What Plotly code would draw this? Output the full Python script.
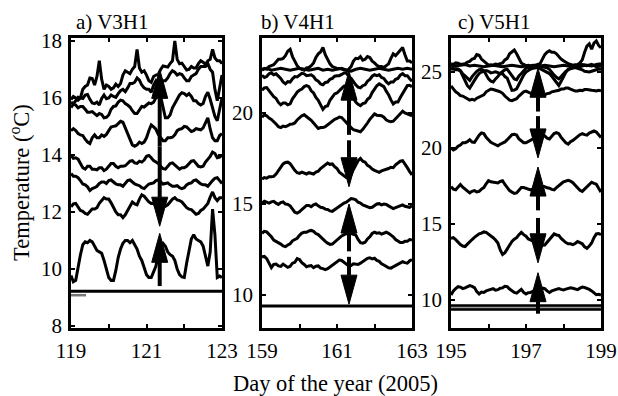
import plotly.graph_objects as go
import numpy as np

# ---------------- data (°C, sampled every 1.5 h over four days) ----------------
# Panel a) V3H1, days 119-123
a1 = [15.94, 16.05, 16.0, 15.92, 16.0, 16.3, 16.4, 16.45, 16.7, 16.68, 16.45, 16.75, 17.3, 16.65, 16.3, 16.45,
      16.4, 16.3, 16.35, 16.48, 16.4, 16.5, 16.8, 16.95, 16.9, 16.85, 17.0, 17.1, 17.7, 17.05, 16.9, 16.95,
      16.8, 16.6, 16.55, 16.75, 16.8, 16.82, 17.0, 17.12, 17.1, 17.08, 17.2, 17.3, 18.0, 17.35, 17.2, 17.22,
      17.1, 16.98, 17.0, 17.1, 17.05, 17.05, 17.2, 17.3, 17.25, 17.18, 17.3, 17.35, 17.7, 17.4, 17.3, 17.3, 17.2]
a2 = [15.85, 15.8, 15.9, 16.02, 16.0, 15.98, 16.1, 16.12, 15.95, 15.82, 15.8, 15.85, 15.75, 15.98, 16.1, 15.97,
      16.0, 16.1, 16.05, 16.02, 16.15, 16.25, 16.3, 16.22, 16.35, 16.5, 16.5, 16.55, 16.7, 16.62, 16.45, 16.35,
      16.3, 16.3, 16.2, 16.45, 16.6, 16.48, 16.5, 16.6, 16.6, 16.7, 16.85, 16.95, 16.9, 16.8, 16.85, 16.82,
      16.7, 16.6, 16.6, 16.75, 16.8, 16.85, 17.0, 17.1, 17.1, 17.1, 17.2, 17.0, 16.9, 16.3, 15.9, 16.4, 16.8]
a3 = [15.66, 15.78, 15.75, 15.65, 15.7, 15.7, 15.6, 15.5, 15.5, 15.52, 15.45, 15.38, 15.45, 15.42, 15.3, 15.32,
      15.4, 15.6, 15.7, 15.72, 15.85, 15.92, 15.9, 15.8, 15.75, 15.68, 15.55, 15.45, 15.45, 15.6, 15.7, 15.68,
      15.75, 15.82, 15.8, 15.85, 16.0, 16.08, 16.05, 15.7, 15.3, 15.3, 15.4, 15.65, 15.8, 15.9, 16.1, 16.18,
      16.15, 16.08, 16.15, 16.05, 15.9, 15.9, 15.8, 15.75, 15.8, 16.05, 16.2, 15.95, 15.6, 15.35, 15.2, 15.55, 16.0]
a4 = [14.85, 14.92, 14.85, 14.75, 14.7, 14.68, 14.55, 14.45, 14.4, 14.6, 14.7, 14.6, 14.6, 14.7, 14.65, 14.72,
      14.85, 14.98, 15.0, 15.02, 15.1, 15.18, 15.15, 14.95, 14.7, 14.5, 14.35, 14.3, 14.35, 14.45, 14.4, 14.45,
      14.6, 14.85, 15.05, 14.98, 14.9, 14.72, 14.6, 14.5, 14.5, 14.6, 14.6, 14.62, 14.7, 14.85, 14.9, 14.92,
      15.0, 14.98, 14.9, 14.82, 14.85, 14.92, 14.9, 14.88, 14.95, 15.15, 15.3, 14.9, 14.6, 14.5, 14.5, 14.68, 14.75]
a5 = [13.99, 13.88, 13.9, 13.85, 13.7, 13.55, 13.5, 13.6, 13.6, 13.5, 13.5, 13.48, 13.55, 13.55, 13.45, 13.5,
      13.6, 13.7, 13.7, 13.6, 13.55, 13.6, 13.6, 13.62, 13.7, 13.78, 13.8, 13.72, 13.7, 13.78, 13.75, 13.82,
      13.95, 13.98, 13.9, 13.8, 13.75, 13.7, 13.6, 13.52, 13.5, 13.62, 13.7, 13.72, 13.65, 13.55, 13.5, 13.55,
      13.55, 13.6, 13.7, 13.78, 13.8, 13.7, 13.6, 13.58, 13.6, 13.75, 13.85, 13.95, 14.1, 14.05, 13.9, 13.92, 14.0]
a6 = [13.35, 13.25, 13.25, 13.2, 13.1, 12.98, 12.95, 12.88, 12.75, 12.82, 12.85, 12.9, 13.0, 13.05, 13.05, 13.0,
      13.1, 13.12, 13.05, 12.98, 12.95, 12.95, 12.9, 13.0, 13.1, 13.12, 13.05, 12.98, 12.95, 12.92, 12.85, 12.82,
      12.9, 12.98, 13.0, 13.02, 13.1, 13.12, 13.05, 12.98, 13.0, 13.02, 12.95, 12.9, 12.9, 12.92, 12.85, 12.82,
      12.85, 12.95, 13.0, 13.02, 13.1, 13.12, 13.05, 12.98, 12.95, 12.95, 12.9, 13.02, 13.1, 13.18, 13.2, 13.1, 13.0]
a7 = [12.18, 12.28, 12.3, 12.15, 12.05, 12.02, 11.95, 11.92, 12.0, 12.1, 12.1, 12.15, 12.3, 12.42, 12.5, 12.45,
      12.45, 12.32, 12.15, 12.0, 11.9, 11.9, 11.8, 11.9, 12.05, 12.22, 12.35, 12.28, 12.25, 12.45, 12.6, 12.55,
      12.45, 12.35, 12.3, 12.3, 12.2, 12.15, 12.2, 12.25, 12.2, 12.25, 12.35, 12.45, 12.5, 12.42, 12.4, 12.35,
      12.25, 12.15, 12.1, 12.08, 12.0, 11.92, 11.95, 12.05, 12.1, 12.2, 12.3, 12.52, 12.7, 12.5, 12.4, 12.5, 12.5]
a8 = [9.77, 9.55, 9.6, 10.1, 10.5, 10.85, 10.95, 10.92, 11.0, 10.95, 10.8, 10.65, 10.6, 10.55, 10.3, 9.95,
      9.7, 9.6, 9.6, 9.95, 10.4, 10.7, 10.9, 11.0, 11.0, 10.92, 11.0, 10.85, 10.7, 10.45, 10.3, 10.05,
      9.8, 9.7, 9.7, 9.9, 10.1, 10.5, 10.8, 10.9, 10.8, 10.6, 10.5, 10.45, 10.3, 10.0, 9.8, 9.72,
      9.7, 10.2, 10.7, 11.05, 11.2, 11.05, 11.0, 10.95, 10.8, 10.4, 10.1, 10.6, 12.1, 11.2, 9.7, 9.75, 9.7]
a9 = [9.22, 9.22]
a_short = [9.08, 9.08]          # short grey trace, days 119.0-119.4
a_short_days = [119.0, 119.4]
lines_a = [a1, a2, a3, a4, a5, a6, a7, a8, a9]

# Panel b) V4H1, days 159-163
b1 = [22.35, 22.45, 22.4, 22.55, 22.6, 22.65, 22.8, 22.95, 22.95, 23.0, 23.15, 23.4, 23.5, 23.1, 22.85, 22.6,
      22.45, 22.42, 22.35, 22.48, 22.5, 22.6, 22.75, 23.05, 23.25, 23.35, 23.6, 23.2, 22.95, 22.7, 22.55, 22.5,
      22.45, 22.45, 22.4, 22.38, 22.35, 22.4, 22.55, 22.85, 23.0, 22.98, 23.1, 22.9, 22.95, 23.1, 23.05, 22.85,
      22.75, 22.62, 22.55, 22.55, 22.5, 22.6, 22.7, 23.0, 23.25, 23.15, 23.3, 23.45, 23.6, 23.2, 22.85, 22.85, 22.75]
b2 = [22.4, 22.45, 22.35, 22.4, 22.45, 22.4, 22.35, 22.4, 22.45, 22.4, 22.35, 22.4, 22.45, 22.35, 22.4, 22.35,
      22.4, 22.45, 22.35, 22.3, 22.4, 22.45, 22.4, 22.35, 22.4, 22.45, 22.4, 22.35, 22.4, 22.45, 22.4, 22.45, 22.4]
b3 = [22.07, 21.95, 22.0, 22.15, 22.2, 22.1, 22.15, 22.05, 21.9, 21.7, 21.6, 21.72, 21.7, 21.88, 22.0, 21.98,
      22.1, 22.18, 22.15, 22.05, 22.07, 22.1, 22.0, 21.82, 21.75, 21.6, 21.55, 21.68, 21.7, 21.85, 21.9, 22.02,
      22.05, 22.05, 22.12, 22.2, 22.2, 22.0, 21.9, 21.7, 21.55, 21.42, 21.38, 21.5, 21.55, 21.75, 21.85, 22.02,
      22.1, 22.05, 22.1, 21.95, 21.9, 21.72, 21.6, 21.7, 21.7, 21.85, 21.9, 22.08, 22.16, 22.05, 22.05, 21.88, 21.75]
b4 = [21.25, 21.38, 21.4, 21.22, 21.1, 20.9, 20.8, 20.58, 20.45, 20.55, 20.55, 20.45, 20.5, 20.78, 20.95, 21.15,
      21.25, 21.32, 21.45, 21.5, 21.45, 21.22, 21.1, 20.85, 20.7, 20.42, 20.2, 20.35, 20.4, 20.7, 20.9, 21.05,
      21.1, 21.25, 21.35, 21.48, 21.5, 21.22, 21.0, 20.75, 20.6, 20.48, 20.4, 20.52, 20.55, 20.75, 20.85, 21.12,
      21.3, 21.5, 21.6, 21.5, 21.45, 21.2, 21.0, 20.72, 20.5, 20.6, 20.6, 20.85, 21.05, 21.32, 21.5, 21.52, 21.45]
b5 = [19.77, 19.9, 19.85, 19.72, 19.65, 19.55, 19.4, 19.25, 19.2, 19.28, 19.25, 19.3, 19.38, 19.4, 19.45, 19.62,
      19.75, 19.85, 19.9, 19.82, 19.7, 19.6, 19.45, 19.25, 19.15, 19.2, 19.2, 19.25, 19.35, 19.48, 19.55, 19.65,
      19.7, 19.78, 19.75, 19.6, 19.5, 19.32, 19.2, 19.08, 19.04, 18.98, 18.97, 19.1, 19.25, 19.45, 19.65, 19.82,
      19.95, 19.88, 19.85, 19.85, 19.77, 19.62, 19.55, 19.52, 19.55, 19.7, 19.8, 19.98, 20.1, 20.0, 19.95, 19.92, 19.85]
b6 = [16.37, 16.45, 16.42, 16.5, 16.5, 16.52, 16.65, 16.85, 17.0, 17.2, 17.28, 17.3, 17.22, 17.0, 16.85, 16.72,
      16.68, 16.75, 16.7, 16.65, 16.72, 16.7, 16.65, 16.75, 16.8, 16.95, 17.05, 17.2, 17.25, 17.18, 17.2, 17.05,
      16.95, 16.75, 16.65, 16.5, 16.45, 16.5, 16.6, 16.9, 17.15, 17.38, 17.5, 17.35, 17.3, 17.12, 17.05, 16.92,
      16.85, 16.8, 16.74, 16.82, 16.85, 16.88, 16.95, 17.02, 17.0, 17.15, 17.25, 17.35, 17.38, 17.15, 17.0, 16.78, 16.6]
b7 = [15.05, 15.15, 15.1, 15.05, 15.12, 15.15, 15.05, 14.98, 15.08, 15.12, 15.0, 14.98, 14.9, 14.7, 14.55, 14.5,
      14.57, 14.7, 14.8, 14.92, 14.92, 14.85, 14.95, 15.0, 14.9, 14.82, 14.8, 14.72, 14.7, 14.62, 14.6, 14.7,
      14.75, 14.88, 14.95, 15.05, 15.1, 15.22, 15.3, 15.28, 15.23, 15.1, 15.05, 14.95, 14.9, 14.88, 14.8, 14.82,
      14.9, 15.0, 15.02, 14.95, 15.0, 14.98, 14.9, 14.8, 14.75, 14.8, 14.85, 14.92, 14.95, 14.88, 14.85, 14.82, 14.9]
b8 = [13.39, 13.5, 13.47, 13.35, 13.2, 13.02, 12.95, 12.9, 12.8, 12.7, 12.66, 12.75, 12.82, 12.98, 13.05, 13.12,
      13.28, 13.4, 13.45, 13.45, 13.52, 13.55, 13.5, 13.38, 13.32, 13.18, 13.1, 12.95, 12.85, 12.78, 12.8, 12.92,
      13.0, 13.15, 13.25, 13.32, 13.35, 13.42, 13.38, 13.32, 13.3, 13.05, 12.88, 12.85, 12.9, 13.08, 13.2, 13.38,
      13.45, 13.4, 13.42, 13.35, 13.38, 13.45, 13.39, 13.3, 13.2, 13.05, 12.95, 12.88, 12.88, 12.95, 12.95, 13.05, 13.02]
b9 = [12.1, 12.12, 12.0, 11.72, 11.5, 11.68, 11.7, 11.6, 11.58, 11.7, 11.62, 11.52, 11.58, 11.75, 11.8, 12.0,
      11.95, 11.78, 11.68, 11.55, 11.6, 11.62, 11.5, 11.58, 11.6, 11.48, 11.45, 11.4, 11.45, 11.55, 11.6, 11.75,
      11.8, 11.92, 11.9, 11.78, 11.7, 11.6, 11.62, 11.72, 11.7, 11.68, 11.75, 11.85, 11.9, 12.02, 12.05, 11.98,
      12.02, 11.9, 11.85, 11.72, 11.65, 11.55, 11.5, 11.48, 11.55, 11.65, 11.7, 11.8, 11.83, 11.78, 11.75, 11.88, 11.95]
b10 = [9.4, 9.4]
lines_b = [b1, b2, b3, b4, b5, b6, b7, b8, b9, b10]

# Panel c) V5H1, days 195-199
c1 = [25.45, 25.4, 25.45, 25.5, 25.4, 25.45, 25.4, 25.35, 25.4, 25.45, 25.4, 25.35, 25.4, 25.45, 25.4, 25.35,
      25.4, 25.4, 25.35, 25.4, 25.45, 25.4, 25.35, 25.4, 25.45, 25.4, 25.35, 25.4, 25.5, 25.45, 25.4, 25.5, 25.55]
c2 = [25.55, 25.5, 25.6, 25.58, 25.5, 25.52, 25.55, 25.65, 25.7, 25.85, 25.9, 26.15, 26.1, 25.85, 25.7, 25.55,
      25.45, 25.48, 25.45, 25.52, 25.5, 25.55, 25.6, 25.8, 25.9, 26.2, 26.35, 26.45, 26.2, 25.85, 25.6, 25.5,
      25.42, 25.45, 25.4, 25.45, 25.45, 25.5, 25.55, 25.85, 26.15, 26.3, 26.4, 26.3, 26.3, 26.2, 26.0, 25.85,
      25.75, 25.62, 25.55, 25.5, 25.45, 25.48, 25.5, 25.6, 25.8, 26.3, 26.7, 26.85, 26.5, 26.9, 27.05, 26.75, 26.6]
c3 = [25.29, 25.2, 25.22, 25.2, 25.1, 24.88, 24.75, 24.62, 24.45, 24.7, 24.9, 25.05, 25.15, 25.18, 25.1, 24.85,
      24.55, 24.4, 24.35, 24.55, 24.7, 24.92, 25.05, 25.15, 25.18, 24.95, 24.7, 24.55, 24.5, 24.75, 24.9, 25.1,
      25.25, 25.32, 25.3, 25.3, 25.35, 25.4, 25.38, 25.35, 25.29, 25.28, 25.18, 24.95, 24.8, 24.65, 24.55, 24.7,
      24.9, 25.05, 25.15, 25.25, 25.3, 25.36, 25.38, 25.35, 25.4, 25.45, 25.42, 25.48, 25.5, 25.42, 25.35, 25.38, 25.4]
c4 = [25.18, 25.22, 25.15, 25.15, 25.08, 24.75, 24.4, 24.1, 23.95, 24.25, 24.45, 24.7, 24.9, 25.0, 25.05, 25.1,
      25.05, 24.95, 24.98, 25.02, 24.96, 24.88, 24.9, 24.7, 24.6, 24.15, 23.8, 23.82, 23.9, 24.2, 24.55, 24.8,
      25.0, 25.12, 25.2, 25.25, 25.28, 25.3, 25.22, 25.15, 25.05, 25.0, 24.9, 24.72, 24.5, 24.28, 24.12, 24.4,
      24.7, 24.98, 25.18, 25.22, 25.25, 25.3, 25.25, 25.22, 25.15, 25.05, 25.0, 25.0, 25.05, 25.12, 25.15, 25.2, 25.18]
c5 = [24.09, 23.85, 23.7, 23.6, 23.45, 23.42, 23.33, 23.2, 23.15, 23.2, 23.15, 23.28, 23.35, 23.38, 23.5, 23.7,
      23.8, 23.88, 23.85, 23.78, 23.75, 23.7, 23.6, 23.42, 23.3, 23.15, 23.12, 23.2, 23.25, 23.42, 23.55, 23.7,
      23.75, 23.65, 23.6, 23.58, 23.5, 23.48, 23.42, 23.48, 23.5, 23.58, 23.6, 23.7, 23.72, 23.78, 23.8, 23.88,
      23.88, 23.95, 23.95, 23.88, 23.82, 23.75, 23.75, 23.8, 23.78, 23.85, 23.85, 23.8, 23.8, 23.78, 23.75, 23.8, 23.76]
c6 = [20.02, 19.88, 19.95, 20.12, 20.2, 20.35, 20.35, 20.42, 20.55, 20.4, 20.38, 20.62, 20.85, 21.0, 20.95, 20.7,
      20.5, 20.38, 20.3, 20.2, 20.15, 20.25, 20.3, 20.4, 20.55, 20.75, 20.88, 20.9, 20.85, 20.6, 20.45, 20.35,
      20.35, 20.45, 20.5, 20.6, 20.65, 20.72, 20.75, 20.82, 20.8, 20.65, 20.6, 20.8, 20.95, 21.02, 20.95, 20.7,
      20.5, 20.35, 20.26, 20.42, 20.5, 20.65, 20.75, 20.88, 20.95, 20.88, 20.85, 20.98, 21.05, 21.12, 21.05, 20.85, 20.7]
c7 = [17.46, 17.3, 17.25, 17.45, 17.6, 17.42, 17.3, 17.12, 17.05, 17.15, 17.2, 17.12, 17.15, 17.3, 17.4, 17.65,
      17.85, 17.78, 17.75, 17.68, 17.7, 17.8, 17.85, 17.6, 17.4, 17.2, 17.1, 17.02, 17.05, 17.25, 17.4, 17.4,
      17.35, 17.25, 17.25, 17.3, 17.3, 17.38, 17.4, 17.48, 17.46, 17.38, 17.36, 17.28, 17.25, 17.4, 17.5, 17.65,
      17.77, 17.85, 17.88, 17.82, 17.72, 17.55, 17.4, 17.22, 17.15, 17.3, 17.4, 17.6, 17.75, 17.68, 17.62, 17.35, 17.1]
c8 = [14.06, 14.1, 13.97, 13.8, 13.65, 13.55, 13.52, 13.68, 13.8, 13.98, 14.12, 14.25, 14.35, 14.4, 14.48, 14.45,
      14.35, 14.25, 14.1, 13.95, 13.75, 13.3, 13.0, 13.12, 13.35, 13.65, 13.85, 14.0, 14.1, 14.3, 14.45, 14.3,
      14.2, 14.02, 13.95, 13.9, 13.8, 13.72, 13.7, 13.6, 13.62, 13.8, 14.0, 14.22, 14.35, 14.28, 14.25, 14.05,
      13.9, 13.78, 13.7, 13.7, 13.65, 13.72, 13.85, 13.8, 13.7, 13.5, 13.4, 13.55, 13.75, 14.1, 14.35, 14.38, 14.3]
c9 = [10.33, 10.6, 10.75, 10.88, 10.85, 10.75, 10.8, 10.9, 10.95, 10.9, 10.82, 10.55, 10.4, 10.52, 10.5, 10.6,
      10.65, 10.72, 10.75, 10.65, 10.68, 10.78, 10.8, 10.9, 10.88, 10.72, 10.6, 10.5, 10.45, 10.6, 10.7, 10.5,
      10.4, 10.48, 10.5, 10.58, 10.6, 10.68, 10.7, 10.78, 10.75, 10.6, 10.5, 10.6, 10.65, 10.72, 10.75, 10.7,
      10.67, 10.72, 10.75, 10.8, 10.77, 10.7, 10.68, 10.78, 10.85, 10.82, 10.78, 10.7, 10.6, 10.45, 10.35, 10.38, 10.33]
c10 = [9.63, 9.63]
c11 = [9.40, 9.40]
c_grey = [9.51, 9.51]
lines_c = [c1, c2, c3, c4, c5, c6, c7, c8, c9, c10, c11]

# Arrows: (day, start temperature, tip temperature)
arrows_a = [(121.35, 14.3, 17.0), (121.35, 14.3, 11.5), (121.35, 9.4, 11.25)]
arrows_b = [(161.32, 18.8, 22.3), (161.32, 18.5, 15.95), (161.32, 12.4, 15.0), (161.32, 12.1, 9.5)]
arrows_c = [(197.32, 22.4, 25.25), (197.32, 22.1, 19.35), (197.32, 15.9, 18.75),
            (197.32, 15.4, 12.45), (197.32, 9.1, 11.8)]

titles = ["a) V3H1", "b) V4H1", "c) V5H1"]
x_ranges = [[119, 123], [159, 163], [195, 199]]
y_ranges = [[7.93, 18.1], [8.19, 24.12], [8.16, 27.24]]
y_ticks = [[8, 10, 12, 14, 16, 18], [10, 15, 20], [10, 15, 20, 25]]

# ---------------- layout geometry ----------------
W, H = 618, 396
x_dom_px = [(71, 222), (262, 412), (451, 601)]
y_dom_px = (38, 328)
FONT = "Liberation Serif, Times New Roman, serif"


def grid(x0, n):
    return np.linspace(x0, x0 + 4, n)


fig = go.Figure()

panels = [lines_a, lines_b, lines_c]
arrow_sets = [arrows_a, arrows_b, arrows_c]
for i, lines in enumerate(panels):
    xa = "x" if i == 0 else f"x{i+1}"
    ya = "y" if i == 0 else f"y{i+1}"
    x0 = x_ranges[i][0]
    for vals in lines:
        fig.add_trace(go.Scatter(x=grid(x0, len(vals)), y=vals, mode="lines", xaxis=xa, yaxis=ya,
                                 line=dict(color="black", width=3), hoverinfo="skip",
                                 showlegend=False))
    if i == 0:
        fig.add_trace(go.Scatter(x=a_short_days, y=a_short, mode="lines", xaxis=xa, yaxis=ya,
                                 line=dict(color="#777", width=2.5), showlegend=False))
    if i == 2:
        fig.add_trace(go.Scatter(x=grid(x0, len(c_grey)), y=c_grey, mode="lines", xaxis=xa, yaxis=ya,
                                 line=dict(color="#999", width=1.5), showlegend=False))
    # arrows
    px_per_x = (x_dom_px[i][1] - x_dom_px[i][0]) / (x_ranges[i][1] - x_ranges[i][0])
    px_per_y = (y_dom_px[1] - y_dom_px[0]) / (y_ranges[i][1] - y_ranges[i][0])
    head_len = 29 / px_per_y
    half_w = 8 / px_per_x
    for (ax, y0, y1) in arrow_sets[i]:
        sgn = 1 if y1 > y0 else -1
        base = y1 - sgn * head_len
        fig.add_trace(go.Scatter(x=[ax, ax], y=[y0, base], mode="lines", xaxis=xa, yaxis=ya,
                                 line=dict(color="black", width=4), showlegend=False))
        fig.add_trace(go.Scatter(x=[ax - half_w, ax + half_w, ax, ax - half_w],
                                 y=[base, base, y1, base], mode="lines", fill="toself",
                                 fillcolor="black", line=dict(color="black", width=1),
                                 xaxis=xa, yaxis=ya, showlegend=False))

layout = dict(template="none", width=W, height=H,
              margin=dict(l=0, r=0, t=0, b=0, autoexpand=False),
              paper_bgcolor="white", plot_bgcolor="white", showlegend=False,
              font=dict(family=FONT, size=21, color="black"))

for i in range(3):
    xk = "xaxis" if i == 0 else f"xaxis{i+1}"
    yk = "yaxis" if i == 0 else f"yaxis{i+1}"
    ya = "y" if i == 0 else f"y{i+1}"
    xa = "x" if i == 0 else f"x{i+1}"
    x0 = x_ranges[i][0]
    layout[xk] = dict(domain=[x_dom_px[i][0] / W, x_dom_px[i][1] / W], range=x_ranges[i],
                      anchor=ya, tickvals=[x0, x0 + 2, x0 + 4],
                      ticks="inside", ticklen=4, tickwidth=2, tickcolor="black",
                      minor=dict(tickvals=[x0 + 1, x0 + 3], ticks="inside", ticklen=4,
                                 tickwidth=2, tickcolor="black", showgrid=False),
                      ticklabelstandoff=2,
                      showline=True, linewidth=2.5, linecolor="black", mirror="ticks",
                      showgrid=False, zeroline=False, fixedrange=True, automargin=False,
                      tickfont=dict(family=FONT, size=21, color="black"))
    layout[yk] = dict(domain=[1 - y_dom_px[1] / H, 1 - y_dom_px[0] / H], range=y_ranges[i],
                      anchor=xa, tickvals=y_ticks[i],
                      ticks="inside", ticklen=4, tickwidth=2, tickcolor="black",
                      ticklabelstandoff=2,
                      showline=True, linewidth=2.5, linecolor="black", mirror="ticks",
                      showgrid=False, zeroline=False, fixedrange=True, automargin=False,
                      tickfont=dict(family=FONT, size=21, color="black"))

fig.update_layout(**layout)

title_x_px = [74, 259, 456]
for t, xp in zip(titles, title_x_px):
    fig.add_annotation(text=t, x=xp / W, y=1 - 22 / H, xref="paper", yref="paper",
                       xanchor="left", yanchor="middle", showarrow=False,
                       font=dict(family=FONT, size=21, color="black"))

fig.add_annotation(text="Temperature (<sup>o</sup>C)", x=20 / W, y=1 - 183 / H,
                   xref="paper", yref="paper", textangle=-90, showarrow=False,
                   xanchor="center", yanchor="middle",
                   font=dict(family=FONT, size=22.5, color="black"))
fig.add_annotation(text="Day of the year (2005)", x=335.5 / W, y=1 - 383 / H,
                   xref="paper", yref="paper", showarrow=False,
                   xanchor="center", yanchor="middle",
                   font=dict(family=FONT, size=22.5, color="black"))

fig.write_html("out.html")
